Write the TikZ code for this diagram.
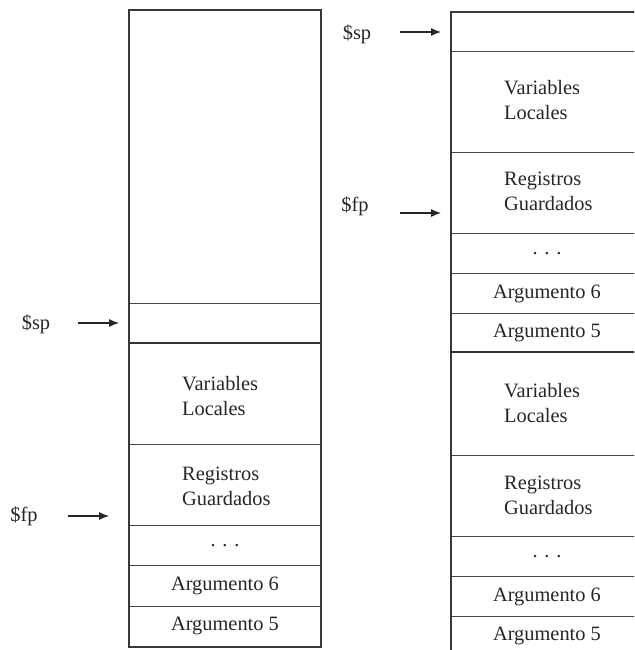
\documentclass[tikz,border=0pt]{standalone}
\usepackage{fontspec}
\setmainfont{Liberation Serif}
\usetikzlibrary{arrows.meta}
\begin{document}
\begin{tikzpicture}[x=1pt,y=-1pt,
  txt/.style={font=\rmfamily\fontsize{20.4}{25}\selectfont, text=black!85, inner sep=0pt},
  cell/.style={draw=black!72, line width=0.9pt, rectangle, inner sep=0pt,
    anchor=north west, minimum width=191pt},
  boundary/.style={draw=black!80, line width=1.8pt},
  edge/.style={draw=black!78, line width=1.4pt},
  ptr/.style={draw=black!85, line width=1.1pt, -{Latex[length=10pt,width=8pt]}},
  twoline/.style={txt, align=left, anchor=west},
]
\useasboundingbox (0,0) rectangle (634,650);
\clip (0,0) rectangle (634,650);

% ---------- left stack ----------
\node[cell, minimum height=293pt] (Lfree) at (129,10) {};
\node[cell, minimum height=40pt]  (Ltop)  at (129,303) {};
\node[cell, minimum height=101pt] (Lvl)   at (129,343) {};
\node[cell, minimum height=81pt]  (Lrg)   at (129,444) {};
\node[cell, minimum height=40pt]  (Ldots) at (129,525) {};
\node[cell, minimum height=41pt]  (La6)   at (129,565) {};
\node[cell, minimum height=40pt]  (La5)   at (129,606) {};
\draw[edge] (Lfree.north west) rectangle (La5.south east);
\draw[boundary] (Lvl.north west) -- (Lvl.north east);

\node[twoline] at ([xshift=53pt,yshift=-2pt]Lvl.west) {Variables\\Locales};
\node[twoline] at ([xshift=53pt,yshift=-1.5pt]Lrg.west) {Registros\\Guardados};
\node[txt] at (Ldots.center) {. . .};
\node[txt] at (La6.center) {Argumento 6};
\node[txt] at (La5.center) {Argumento 5};

% pointers on the left
\node[txt] (spL) at (36,324) {\$sp};
\coordinate (spLa) at (78,323);
\coordinate (spLb) at (119,323);
\draw[ptr] (spLa) -- (spLb);
\node[txt] (fpL) at (24,516) {\$fp};
\coordinate (fpLa) at (68,516);
\coordinate (fpLb) at (109,516);
\draw[ptr] (fpLa) -- (fpLb);

% ---------- right stack ----------
\node[cell, minimum height=39pt]  (Rtop)   at (451,12) {};
\node[cell, minimum height=101pt] (Rvl)    at (451,51) {};
\node[cell, minimum height=81pt]  (Rrg)    at (451,152) {};
\node[cell, minimum height=40pt]  (Rdots)  at (451,233) {};
\node[cell, minimum height=40pt]  (Ra6)    at (451,273) {};
\node[cell, minimum height=39pt]  (Ra5)    at (451,313) {};
\node[cell, minimum height=103pt] (Rvl2)   at (451,352) {};
\node[cell, minimum height=81pt]  (Rrg2)   at (451,455) {};
\node[cell, minimum height=40pt]  (Rdots2) at (451,536) {};
\node[cell, minimum height=40pt]  (Ra62)   at (451,576) {};
\node[cell, minimum height=40pt]  (Ra52)   at (451,616) {};
\draw[edge] (Ra52.south west) -- (Rtop.north west) -- (Rtop.north east);
\draw[boundary] (Rvl2.north west) -- (Rvl2.north east);

\node[twoline] at ([xshift=53pt,yshift=1.5pt]Rvl.west) {Variables\\Locales};
\node[twoline] at ([xshift=53pt,yshift=1.5pt]Rrg.west) {Registros\\Guardados};
\node[txt] at (Rdots.center) {. . .};
\node[txt] at (Ra6.center) {Argumento 6};
\node[txt] at (Ra5.center) {Argumento 5};
\node[twoline] at ([xshift=53pt,yshift=0.5pt]Rvl2.west) {Variables\\Locales};
\node[twoline] at ([xshift=53pt,yshift=0.5pt]Rrg2.west) {Registros\\Guardados};
\node[txt] at (Rdots2.center) {. . .};
\node[txt] at (Ra62.center) {Argumento 6};
\node[txt] at (Ra52.center) {Argumento 5};

% pointers on the right
\node[txt] (spR) at (357,34) {\$sp};
\coordinate (spRa) at (400,32);
\coordinate (spRb) at (441,32);
\draw[ptr] (spRa) -- (spRb);
\node[txt] (fpR) at (355,206) {\$fp};
\coordinate (fpRa) at (400,213);
\coordinate (fpRb) at (441,213);
\draw[ptr] (fpRa) -- (fpRb);
\end{tikzpicture}
\end{document}
